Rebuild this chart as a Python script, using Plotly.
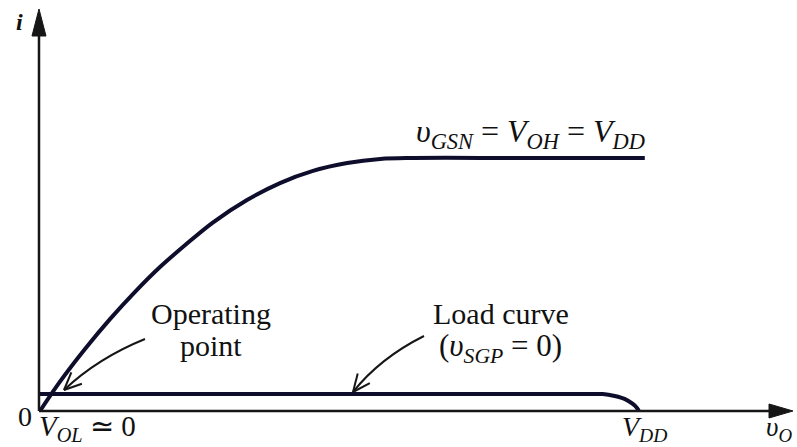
import math
import plotly.graph_objects as go

# Driver (NMOS) characteristic for v_GSN = V_OH = V_DD, in units of V_DD and saturation current
driver_vo = [0.0, 0.033, 0.075, 0.117, 0.158, 0.200, 0.242, 0.288, 0.345,
             0.400, 0.455, 0.512, 0.567, 0.622, 0.800, 1.008]
driver_i = [0.0, 0.115, 0.245, 0.364, 0.470, 0.569, 0.656, 0.745, 0.834,
            0.901, 0.949, 0.980, 0.996, 1.0, 1.0, 1.0]

# Load (PMOS) curve for v_SGP = 0
load_vo = [0.0, 0.433, 0.917, 0.938, 0.958, 0.975, 0.988, 0.995, 0.998]
load_i = [0.067, 0.067, 0.067, 0.067, 0.059, 0.047, 0.028, 0.012, 0.0]

W, H = 797, 447
# Pixel position of the origin and of (V_DD, I_sat)
ORIGIN_PX = (40, 411)
UNIT_PX = (600, 253)

x_range = [-ORIGIN_PX[0] / UNIT_PX[0], (W - ORIGIN_PX[0]) / UNIT_PX[0]]
y_range = [-(H - ORIGIN_PX[1]) / UNIT_PX[1], ORIGIN_PX[1] / UNIT_PX[1]]


def px(x, y):
    """Convert page pixels to paper coordinates."""
    return x / W, 1 - y / H


CURVE = "#0e0e2c"
AXIS = "#161616"
TEXT = "#111111"
SERIF = "Liberation Serif, Times New Roman, serif"

fig = go.Figure()
fig.add_trace(go.Scatter(x=driver_vo, y=driver_i, mode="lines",
                         line=dict(color=CURVE, width=4, shape="spline", smoothing=1.0),
                         hoverinfo="skip", showlegend=False))
fig.add_trace(go.Scatter(x=load_vo, y=load_i, mode="lines",
                         line=dict(color=CURVE, width=4, shape="spline", smoothing=0.8),
                         hoverinfo="skip", showlegend=False))

shapes = []


def pline(points, width=2, color=AXIS, fill=None):
    pts = [px(*p) for p in points]
    d = "M " + " L ".join(f"{a:.5f},{b:.5f}" for a, b in pts)
    if fill:
        d += " Z"
    shapes.append(dict(type="path", xref="paper", yref="paper", path=d,
                       line=dict(color=color, width=width),
                       fillcolor=fill if fill else "rgba(0,0,0,0)"))


# Axes with filled arrowheads
pline([(39, 411), (39, 30)], width=2.5)
pline([(39, 9), (32, 36), (46, 36)], width=1, fill=AXIS)
pline([(39, 411), (775, 411)], width=2.5)
pline([(793, 411), (769, 404), (769, 418)], width=1, fill=AXIS)


def curved_arrow(start, ctrl, tip, head=19, spread=24):
    s, c, t = px(*start), px(*ctrl), px(*tip)
    d = f"M {s[0]:.5f},{s[1]:.5f} Q {c[0]:.5f},{c[1]:.5f} {t[0]:.5f},{t[1]:.5f}"
    shapes.append(dict(type="path", xref="paper", yref="paper", path=d,
                       line=dict(color=AXIS, width=2)))
    ang = math.atan2(ctrl[1] - tip[1], ctrl[0] - tip[0])
    for sgn in (-1, 1):
        a = ang + sgn * math.radians(spread)
        pline([(tip[0] + head * math.cos(a), tip[1] + head * math.sin(a)), tip], width=2)


curved_arrow((145, 339), (98, 358), (64, 390))
curved_arrow((424, 336), (380, 358), (353, 392))

ann = []


def label(text, x, y, size=26, anchor="center"):
    ax, ay = px(x, y)
    ann.append(dict(text=text, x=ax, y=ay, xref="paper", yref="paper",
                    xanchor=anchor, yanchor="middle", showarrow=False,
                    font=dict(family=SERIF, size=size, color=TEXT)))


label("<i><b>i</b></i>", 19, 22, size=24)
label("<i>υ</i><sub><i>GSN</i></sub> = <i>V</i><sub><i>OH</i></sub> = <i>V</i><sub><i>DD</i></sub>",
      530, 133, size=32)
label("Operating", 211, 313, size=30)
label("point", 211, 345, size=30)
label("Load curve", 501, 313, size=30)
label("(<i>υ</i><sub><i>SGP</i></sub> = 0)", 500, 348, size=31)
label("0", 25, 416, size=28)
label("<i>V</i><sub><i>OL</i></sub> ≃ 0", 87, 428, size=29)
label("<i>V</i><sub><i>DD</i></sub>", 644, 428, size=28)
label("<i>υ</i><sub><i>O</i></sub>", 779, 429, size=27)

fig.update_layout(
    width=W, height=H,
    margin=dict(l=0, r=0, t=0, b=0),
    paper_bgcolor="white", plot_bgcolor="white",
    xaxis=dict(range=x_range, visible=False, fixedrange=True),
    yaxis=dict(range=y_range, visible=False, fixedrange=True),
    shapes=shapes, annotations=ann,
    showlegend=False,
)

fig.write_html("out.html")
